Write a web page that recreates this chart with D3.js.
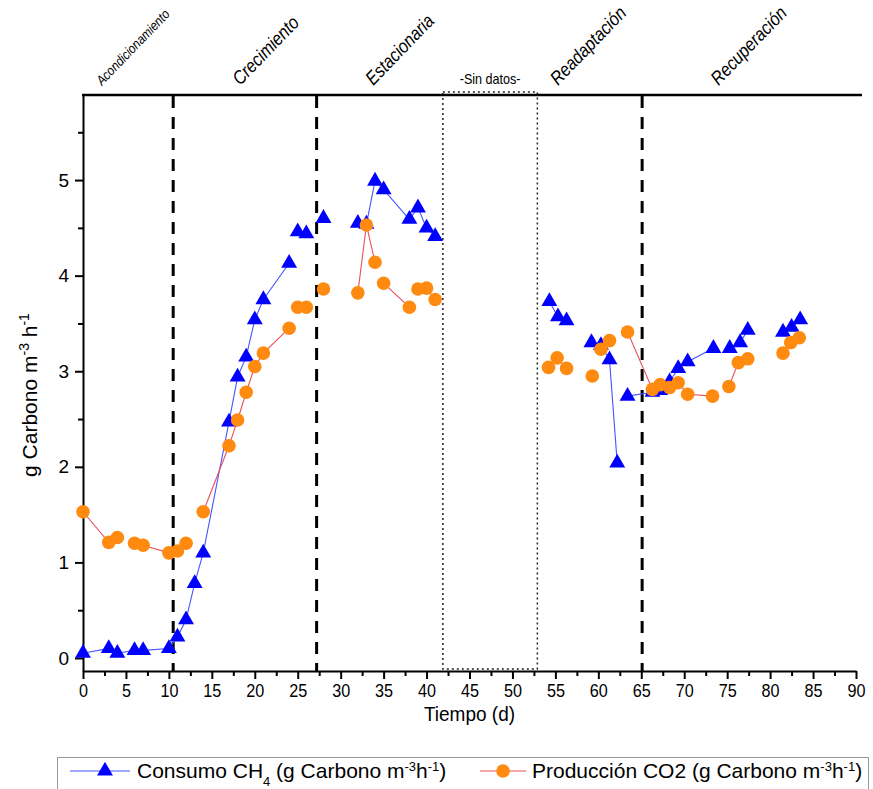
<!DOCTYPE html>
<html><head><meta charset="utf-8">
<script src="https://cdn.jsdelivr.net/npm/d3@7"></script>
<style>body{margin:0;background:#fff}</style>
</head><body>
<svg id="chart" width="873" height="789"></svg>
<script>
// ---- data (null value = line break) ----
const ch4Days = [0,3,4,6,7,10,11,12,13,14,17,18,19,20,21,24,24.5,25,26,27,28,30,32,33,34,35,38,39,40,41,48,
  54.3,55.3,56.3,58,59.2,60.3,61.3,62.2,62.8,63.4,66.3,67.2,68.3,69.3,70.4,73.4,74,75.3,76.5,77.4,79,81.5,82.5,83.5];
const ch4Vals = [0.05,0.1,0.05,0.08,0.08,0.1,0.22,0.4,0.78,1.1,2.47,2.94,3.15,3.54,3.75,4.13,null,4.46,4.44,null,4.6,null,4.55,4.54,4.99,4.9,4.59,4.71,4.5,4.41,null,
  3.73,3.57,3.53,null,3.3,3.27,3.12,2.04,null,2.74,2.78,2.8,2.89,3.03,3.1,3.24,null,3.24,3.3,3.43,null,3.41,3.46,3.54];
const co2Days = [0,3,4,5,6,7,10,11,12,13,14,17,18,19,20,21,24,24.5,25,26,27,28,30,32,33,34,34.5,35,38,38.5,39,40,41,48,
  54.2,55.2,56.3,58,59.3,60,60.3,61.3,62,63.4,66.3,67.2,68.3,69.3,70.4,73.3,74,75.2,76.3,77.4,79,81.5,82.4,83.4];
const co2Vals = [1.53,1.21,1.26,null,1.2,1.18,1.1,1.12,1.2,null,1.53,2.22,2.49,2.78,3.05,3.19,3.45,null,3.67,3.67,null,3.86,null,3.82,4.53,4.14,null,3.92,3.67,null,3.86,3.87,3.75,null,
  3.04,3.14,3.03,null,2.95,null,3.23,3.32,null,3.41,2.81,2.86,2.83,2.88,2.76,2.74,null,2.84,3.09,3.13,null,3.19,3.30,3.35];
const xTicks = [0,5,10,15,20,25,30,35,40,45,50,55,60,65,70,75,80,85,90];
const xMinorTicks = [2.5,7.5,12.5,17.5,22.5,27.5,32.5,37.5,42.5,47.5,52.5,57.5,62.5,67.5,72.5,77.5,82.5,87.5];
const yTicks = [0,1,2,3,4,5];
const yMinorTicks = [0.5,1.5,2.5,3.5,4.5,5.5];
const phaseDashed = [10.5, 27.2, 65.1];
const noDataRange = [41.9, 52.9];
const phaseLabels = ["Acondicionamiento","Crecimiento","Estacionaria","Readaptación","Recuperación"];
const phaseLabelDays = [2.2, 18.3, 33.8, 55.3, 74.0];
const seriesNames = ["Consumo CH", "Producción CO2"];

// ---- layout ----
const svg = d3.select("#chart");
const x = d3.scaleLinear([0, 90], [83, 856]);
const y = d3.scaleLinear([-0.136, 5.89], [671, 95]);
const font = "'Liberation Sans',Arial,sans-serif";

// no-data dotted box
svg.append("rect")
  .attr("x", x(noDataRange[0])).attr("y", 92)
  .attr("width", x(noDataRange[1]) - x(noDataRange[0])).attr("height", 669 - 92)
  .attr("fill", "none").attr("stroke", "#222").attr("stroke-width", 1.5)
  .attr("stroke-dasharray", "2,3");

// dashed phase lines
svg.selectAll("line.phase").data(phaseDashed).join("line")
  .attr("x1", d => x(d)).attr("x2", d => x(d))
  .attr("y1", 96).attr("y2", 671)
  .attr("stroke", "#000").attr("stroke-width", 3).attr("stroke-dasharray", "12,9");

// axes
const gx = svg.append("g").attr("transform", "translate(0,671)")
  .call(d3.axisBottom(x).tickValues(xTicks).tickSize(8).tickSizeOuter(0).tickPadding(5).tickFormat(d3.format("d")));
svg.append("g").attr("transform", "translate(0,671)")
  .call(d3.axisBottom(x).tickValues(xMinorTicks).tickSize(5).tickSizeOuter(0).tickFormat(""))
  .select(".domain").remove();
const gy = svg.append("g").attr("transform", "translate(83,0)")
  .call(d3.axisLeft(y).tickValues(yTicks).tickSize(8).tickSizeOuter(0).tickPadding(6).tickFormat(d3.format("d")));
svg.append("g").attr("transform", "translate(83,0)")
  .call(d3.axisLeft(y).tickValues(yMinorTicks).tickSize(5).tickSizeOuter(0).tickFormat(""))
  .select(".domain").remove();
svg.selectAll(".domain").attr("stroke", "#000").attr("stroke-width", 2);
svg.selectAll(".tick line").attr("stroke", "#000").attr("stroke-width", 2);
gx.selectAll("text").attr("font-family", font).attr("font-size", 18).attr("fill", "#000")
  .attr("transform", "scale(0.9,1)");
gy.selectAll("text").attr("font-family", font).attr("font-size", 19).attr("fill", "#000");

// top border
svg.append("line").attr("x1", 82).attr("x2", 862).attr("y1", 95).attr("y2", 95)
  .attr("stroke", "#000").attr("stroke-width", 2.5);

// axis titles
svg.append("text").attr("transform", `translate(${x(45)},721) scale(0.95,1)`).attr("text-anchor", "middle")
  .attr("font-family", font).attr("font-size", 20).text("Tiempo (d)");
const yl = svg.append("text").attr("transform", "translate(37,395) rotate(-90)")
  .attr("text-anchor", "middle").attr("font-family", font).attr("font-size", 21);
yl.append("tspan").text("g Carbono m");
yl.append("tspan").attr("baseline-shift", "super").attr("font-size", 14).text("-3");
yl.append("tspan").text(" h");
yl.append("tspan").attr("baseline-shift", "super").attr("font-size", 14).text("-1");

// phase labels
phaseLabels.forEach((t, i) => {
  svg.append("text")
    .attr("transform", `translate(${x(phaseLabelDays[i])},86) rotate(-46) scale(0.9,1.05)`)
    .attr("font-family", font).attr("font-style", "italic")
    .attr("font-size", i === 0 ? 13 : 18).text(t);
});
svg.append("text").attr("transform", `translate(${(x(noDataRange[0]) + x(noDataRange[1])) / 2},84) scale(0.9,1)`)
  .attr("text-anchor", "middle").attr("font-family", font).attr("font-size", 14).text("-Sin datos-");

// series
const ch4 = ch4Days.map((d, i) => ({d, v: ch4Vals[i]}));
const co2 = co2Days.map((d, i) => ({d, v: co2Vals[i]}));
const line = d3.line().defined(p => p.v != null).x(p => x(p.d)).y(p => y(p.v));
const tri = d3.symbol(d3.symbolTriangle, 110);

svg.append("path").datum(ch4).attr("d", line).attr("fill", "none")
  .attr("stroke", "#4653ff").attr("stroke-width", 1.1);
svg.selectAll("path.ch4").data(ch4.filter(p => p.v != null)).join("path")
  .attr("transform", p => `translate(${x(p.d)},${y(p.v)})`).attr("d", tri).attr("fill", "#0000ff");

svg.append("path").datum(co2).attr("d", line).attr("fill", "none")
  .attr("stroke", "#e8505a").attr("stroke-width", 1.1);
svg.selectAll("circle.co2").data(co2.filter(p => p.v != null)).join("circle")
  .attr("cx", p => x(p.d)).attr("cy", p => y(p.v)).attr("r", 6.8).attr("fill", "#ff8a10");

// legend
svg.append("rect").attr("x", 57.5).attr("y", 757.5).attr("width", 811).attr("height", 40)
  .attr("fill", "#fff").attr("stroke", "#999").attr("stroke-width", 1);
svg.append("line").attr("x1", 70).attr("x2", 130).attr("y1", 771).attr("y2", 771)
  .attr("stroke", "#4653ff").attr("stroke-width", 1.1);
svg.append("path").attr("transform", "translate(105,771)").attr("d", tri).attr("fill", "#0000ff");
const l1 = svg.append("text").attr("x", 137).attr("y", 778).attr("font-family", font).attr("font-size", 21);
l1.append("tspan").text(seriesNames[0]);
l1.append("tspan").attr("baseline-shift", "sub").attr("font-size", 13).text("4");
l1.append("tspan").text(" (g Carbono m");
l1.append("tspan").attr("baseline-shift", "super").attr("font-size", 13).text("-3");
l1.append("tspan").text("h");
l1.append("tspan").attr("baseline-shift", "super").attr("font-size", 13).text("-1");
l1.append("tspan").text(")");

svg.append("line").attr("x1", 480).attr("x2", 526).attr("y1", 771).attr("y2", 771)
  .attr("stroke", "#e8505a").attr("stroke-width", 1.1);
svg.append("circle").attr("cx", 503).attr("cy", 771).attr("r", 6.8).attr("fill", "#ff8a10");
const l2 = svg.append("text").attr("x", 532).attr("y", 778).attr("font-family", font).attr("font-size", 21);
l2.append("tspan").text(seriesNames[1] + " (g Carbono m");
l2.append("tspan").attr("baseline-shift", "super").attr("font-size", 13).text("-3");
l2.append("tspan").text("h");
l2.append("tspan").attr("baseline-shift", "super").attr("font-size", 13).text("-1");
l2.append("tspan").text(")");
</script>
</body></html>
